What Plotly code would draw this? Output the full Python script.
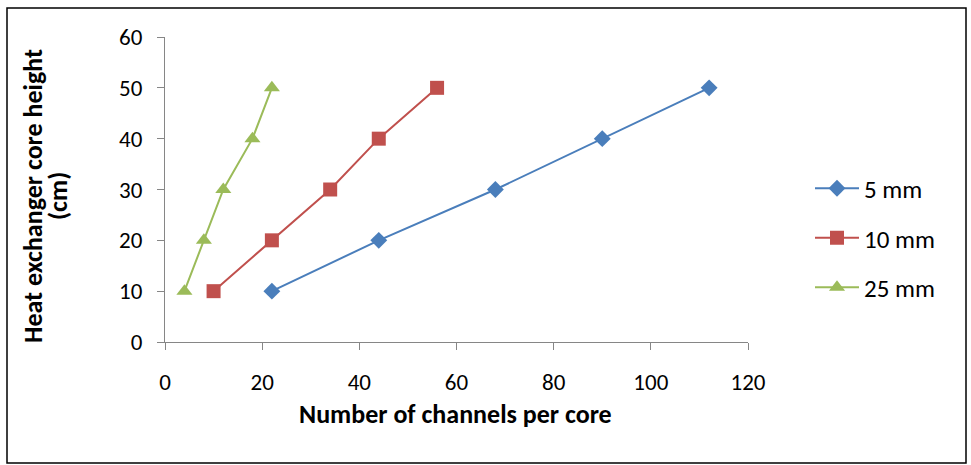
import plotly.graph_objects as go

# Channel counts needed for each core height, by channel size
heights = [10, 20, 30, 40, 50]
channels_5mm = [22, 44, 68, 90, 112]
channels_10mm = [10, 22, 34, 44, 56]
channels_25mm = [4, 8, 12, 18, 22]

series = [
    ("5 mm", channels_5mm, "#4A7EBB", "diamond", 13),
    ("10 mm", channels_10mm, "#C0504D", "square", 14),
    ("25 mm", channels_25mm, "#9BBB59", "triangle-up", 14),
]

FONT = "Carlito, Lato, 'Liberation Sans', sans-serif"

# plot area in pixels
L, R, T, B = 165, 748, 37, 342
PW, PH = R - L, B - T

fig = go.Figure()
for i, (name, xs, color, symbol, size) in enumerate(series):
    fig.add_trace(go.Scatter(
        x=xs, y=heights, name=name, mode="lines+markers",
        line=dict(color=color, width=2),
        marker=dict(symbol=symbol, size=size, color=color, line=dict(width=0)),
        legendgroup=f"g{i}",
    ))

axis_common = dict(
    showgrid=False, zeroline=False, showline=True,
    linecolor="#868686", linewidth=1,
    ticks="outside", ticklen=7, tickcolor="#868686",
    tickfont=dict(family=FONT, size=23, color="#000000"),
)

title_font = dict(family=FONT, size=26, color="#000000")

fig.update_layout(
    width=971, height=465,
    paper_bgcolor="white", plot_bgcolor="white",
    margin=dict(l=L, r=971 - R, t=T, b=465 - B),
    font=dict(family=FONT, color="#000000"),
    xaxis=dict(range=[0, 120], dtick=20, ticklabelstandoff=12, **axis_common),
    yaxis=dict(range=[0, 60], dtick=10, ticklabelstandoff=10, **axis_common),
    legend=dict(x=(810 - L) / PW, y=(B - 238) / PH, xanchor="left", yanchor="middle",
                font=dict(family=FONT, size=25),
                traceorder="grouped", tracegroupgap=14,
                itemwidth=44, bgcolor="rgba(0,0,0,0)"),
    annotations=[
        dict(text="<b>Number of channels per core</b>", xref="paper", yref="paper",
             x=(455 - L) / PW, y=(B - 414) / PH, xanchor="center", yanchor="middle",
             showarrow=False, font=title_font),
        dict(text="<b>Heat exchanger core height</b>", xref="paper", yref="paper",
             x=(33 - L) / PW, y=(B - 196) / PH, xanchor="center", yanchor="middle",
             textangle=-90, showarrow=False, font=title_font),
        dict(text="<b>(cm)</b>", xref="paper", yref="paper",
             x=(58 - L) / PW, y=(B - 196) / PH, xanchor="center", yanchor="middle",
             textangle=-90, showarrow=False, font=title_font),
    ],
    shapes=[dict(type="rect", xref="paper", yref="paper",
                 x0=(7 - L) / PW, x1=(966 - L) / PW,
                 y0=(B - 463) / PH, y1=(B - 8) / PH,
                 line=dict(color="#000000", width=1.5))],
)

fig.write_html("out.html")
